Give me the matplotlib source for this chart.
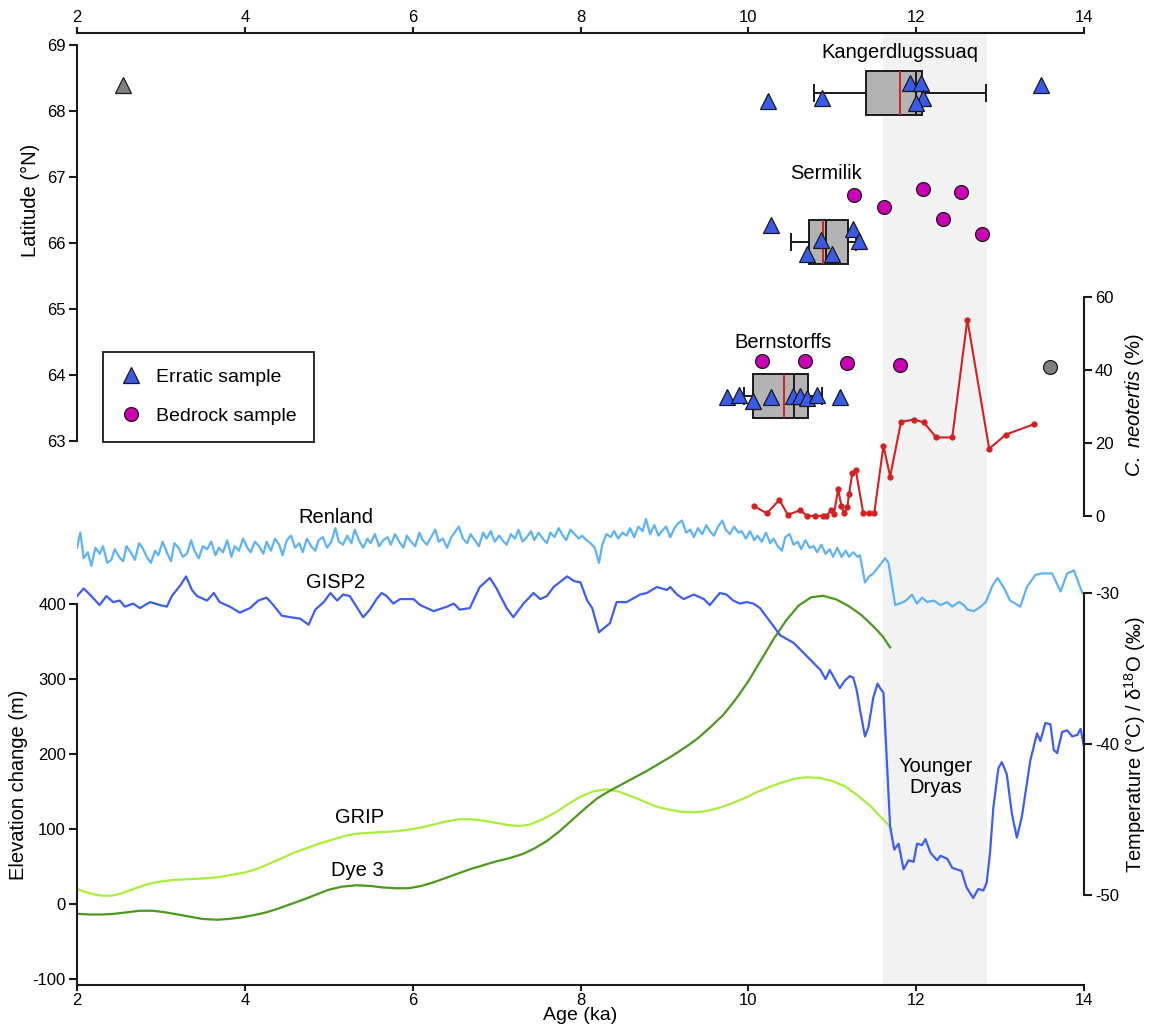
import matplotlib
matplotlib.use('Agg')
import matplotlib.pyplot as plt
from matplotlib.lines import Line2D

plt.rcParams['font.family'] = ['Liberation Sans', 'DejaVu Sans']
plt.rcParams['mathtext.fontset'] = 'custom'
plt.rcParams['mathtext.rm'] = 'Liberation Sans'
plt.rcParams['mathtext.it'] = 'Liberation Sans:italic'
plt.rcParams['axes.unicode_minus'] = False

# ---- exposure ages (ka) and latitude (°N)
erratic_age = [10.24, 10.88, 11.93, 12.06, 12.08, 12.0, 13.49,
               10.27, 11.25, 11.32, 10.86, 10.70, 11.0,
               9.74, 9.89, 10.06, 10.27, 10.53, 10.62, 10.70, 10.82, 11.09]
erratic_lat = [68.15, 68.2, 68.42, 68.42, 68.2, 68.12, 68.4,
               66.27, 66.21, 66.03, 66.05, 65.84, 65.84,
               63.67, 63.70, 63.61, 63.67, 63.68, 63.68, 63.65, 63.69, 63.67]
bedrock_age = [11.26, 11.62, 12.08, 12.53, 12.32, 12.78,
               10.16, 10.68, 11.18, 11.81]
bedrock_lat = [66.72, 66.55, 66.82, 66.77, 66.36, 66.13,
               64.21, 64.21, 64.18, 64.15]
outlier_erratic = (2.55, 68.4)
outlier_bedrock = (13.59, 64.12)

# box summaries: Kangerdlugssuaq, Sermilik, Bernstorffs
box_names = ['Kangerdlugssuaq', 'Sermilik', 'Bernstorffs']
box_lat = [68.275, 66.015, 63.685]
box_whislo = [10.78, 10.51, 9.95]
box_q1 = [11.40, 10.72, 10.06]
box_med = [12.0, 10.92, 10.55]
box_mean = [11.81, 10.89, 10.42]
box_q3 = [12.07, 11.19, 10.71]
box_whishi = [12.83, 11.28, 10.88]

# ---- C. neotertis (%)
cn_age = [10.07, 10.22, 10.37, 10.47, 10.62, 10.70, 10.80, 10.89, 10.93, 10.99,
          11.02, 11.07, 11.11, 11.14, 11.18, 11.20, 11.24, 11.28, 11.37, 11.44,
          11.50, 11.61, 11.69, 11.82, 11.98, 12.09, 12.24, 12.43, 12.61, 12.87,
          13.07, 13.40]
cn_val = [2.7, 0.7, 4.4, 0.3, 1.6, 0.0, 0.0, 0.0, 0.0, 1.6,
          0.5, 7.3, 2.7, 0.7, 2.4, 6.0, 11.8, 12.6, 0.7, 0.7,
          0.7, 19.2, 10.8, 25.8, 26.4, 25.6, 21.5, 21.5, 53.8, 18.4,
          22.3, 25.1]

# ---- Renland (temperature scale)
renland_age = [2.00, 2.04, 2.08, 2.13, 2.17, 2.22, 2.27, 2.31, 2.36, 2.41, 2.45, 2.50,
               2.55, 2.59, 2.64, 2.69, 2.74, 2.78, 2.83, 2.88, 2.93, 2.97, 3.02, 3.07,
               3.12, 3.16, 3.21, 3.26, 3.31, 3.36, 3.40, 3.45, 3.50, 3.55, 3.60, 3.65,
               3.69, 3.74, 3.79, 3.84, 3.88, 3.93, 3.98, 4.03, 4.07, 4.12, 4.17, 4.22,
               4.26, 4.31, 4.36, 4.41, 4.45, 4.50, 4.55, 4.60, 4.65, 4.69, 4.74, 4.79,
               4.84, 4.88, 4.93, 4.98, 5.03, 5.08, 5.12, 5.17, 5.22, 5.27, 5.31, 5.36,
               5.41, 5.46, 5.50, 5.55, 5.60, 5.65, 5.70, 5.74, 5.79, 5.84, 5.89, 5.93,
               5.98, 6.03, 6.08, 6.12, 6.17, 6.22, 6.27, 6.31, 6.36, 6.41, 6.46, 6.50,
               6.55, 6.60, 6.65, 6.69, 6.74, 6.79, 6.84, 6.88, 6.93, 6.98, 7.03, 7.07,
               7.12, 7.17, 7.22, 7.26, 7.31, 7.36, 7.41, 7.45, 7.50, 7.55, 7.60, 7.64,
               7.69, 7.74, 7.79, 7.83, 7.88, 7.93, 7.98, 8.02, 8.07, 8.12, 8.17, 8.22,
               8.26, 8.31, 8.36, 8.40, 8.45, 8.50, 8.55, 8.59, 8.64, 8.69, 8.74, 8.78,
               8.83, 8.88, 8.93, 8.97, 9.02, 9.07, 9.12, 9.16, 9.21, 9.26, 9.31, 9.35,
               9.40, 9.45, 9.50, 9.54, 9.59, 9.64, 9.69, 9.73, 9.78, 9.83, 9.88, 9.92,
               9.97, 10.02, 10.07, 10.11, 10.16, 10.21, 10.26, 10.30, 10.35, 10.40, 10.44, 10.49,
               10.54, 10.59, 10.63, 10.68, 10.73, 10.78, 10.82, 10.87, 10.92, 10.97, 11.01, 11.06,
               11.11, 11.16, 11.20, 11.25, 11.30, 11.33, 11.36, 11.39, 11.44, 11.49, 11.56, 11.63,
               11.67, 11.71, 11.75, 11.80, 11.85, 11.90, 11.95, 12.01, 12.07, 12.13, 12.21, 12.29,
               12.37, 12.43, 12.51, 12.57, 12.61, 12.69, 12.77, 12.83, 12.91, 12.97, 13.05, 13.12,
               13.24, 13.32, 13.42, 13.50, 13.62, 13.72, 13.80, 13.88, 13.98]
renland_val = [-27.0, -26.0, -27.7, -27.3, -28.2, -27.0, -27.4, -26.9, -28.0, -27.8, -27.1, -27.6,
               -27.9, -26.9, -27.3, -27.8, -26.7, -27.0, -27.6, -28.0, -27.2, -27.5, -26.6, -27.3,
               -27.9, -26.7, -27.0, -27.6, -27.4, -26.5, -27.2, -27.7, -26.9, -27.1, -26.6, -27.5,
               -27.0, -27.3, -26.5, -27.6, -26.9, -27.2, -26.4, -27.0, -27.3, -26.6, -26.9, -27.4,
               -26.6, -27.2, -26.4, -26.8, -27.5, -26.5, -26.2, -27.0, -26.7, -27.3, -26.4, -26.9,
               -27.2, -26.5, -26.3, -27.0, -26.6, -25.7, -26.6, -26.8, -26.2, -26.7, -25.8, -26.5,
               -27.0, -26.4, -26.7, -26.1, -26.9, -26.5, -26.3, -26.8, -26.1, -26.6, -27.0, -26.2,
               -26.6, -26.9, -26.0, -26.5, -26.8, -26.3, -25.8, -26.6, -26.4, -27.0, -26.3, -26.0,
               -25.6, -26.4, -26.7, -26.1, -26.5, -26.9, -26.0, -26.4, -25.9, -26.6, -26.2, -26.5,
               -26.8, -26.1, -26.4, -25.8, -26.6, -26.3, -25.9, -26.5, -26.0, -26.4, -26.7, -26.0,
               -26.3, -25.7, -26.2, -26.5, -25.8, -26.1, -26.4, -26.2, -26.5, -26.7, -27.0, -28.0,
               -26.8, -26.1, -26.3, -25.9, -26.4, -26.0, -26.2, -25.7, -26.3, -25.6, -25.9, -25.1,
               -26.1, -25.5, -26.2, -25.9, -25.6, -26.3, -25.7, -25.4, -25.2, -26.0, -25.8, -26.3,
               -25.7, -26.1, -25.5, -25.9, -26.2, -25.6, -25.2, -25.8, -26.1, -25.6, -26.0, -25.9,
               -26.4, -25.9, -26.5, -26.2, -26.6, -26.0, -26.7, -26.4, -26.9, -27.2, -26.3, -26.1,
               -26.8, -26.6, -27.1, -26.5, -27.0, -26.9, -27.3, -26.8, -27.4, -27.1, -27.6, -27.0,
               -27.6, -27.2, -27.6, -27.3, -27.6, -27.5, -28.4, -29.3, -28.9, -28.7, -28.2, -27.7,
               -28.0, -29.4, -30.8, -30.7, -30.6, -30.4, -30.1, -30.7, -30.3, -30.6, -30.5, -30.8,
               -30.6, -30.9, -30.6, -30.8, -31.1, -31.2, -30.9, -30.6, -29.5, -29.0, -29.7, -30.5,
               -30.9, -29.6, -28.8, -28.7, -28.7, -29.9, -28.7, -28.5, -30.0]

# ---- GISP2 temperature (°C)
gisp2_age = [2.00, 2.08, 2.17, 2.27, 2.35, 2.43, 2.51, 2.57, 2.67, 2.75, 2.87, 2.99,
             3.07, 3.13, 3.23, 3.30, 3.37, 3.43, 3.55, 3.63, 3.70, 3.82, 3.94, 4.06,
             4.16, 4.26, 4.34, 4.44, 4.54, 4.66, 4.76, 4.84, 4.94, 5.02, 5.10, 5.17,
             5.25, 5.33, 5.41, 5.49, 5.57, 5.63, 5.69, 5.77, 5.85, 6.01, 6.09, 6.25,
             6.41, 6.49, 6.56, 6.68, 6.80, 6.92, 7.00, 7.12, 7.20, 7.32, 7.44, 7.52,
             7.60, 7.68, 7.84, 7.92, 8.00, 8.08, 8.14, 8.22, 8.35, 8.43, 8.55, 8.71,
             8.79, 8.91, 9.03, 9.07, 9.15, 9.23, 9.35, 9.47, 9.54, 9.66, 9.74, 9.82,
             9.90, 9.98, 10.06, 10.14, 10.26, 10.38, 10.54, 10.70, 10.86, 10.92, 10.97, 11.03,
             11.09, 11.15, 11.21, 11.25, 11.29, 11.33, 11.39, 11.43, 11.49, 11.54, 11.57, 11.61,
             11.65, 11.69, 11.74, 11.79, 11.85, 11.91, 11.97, 12.01, 12.07, 12.11, 12.17, 12.25,
             12.29, 12.37, 12.43, 12.48, 12.54, 12.60, 12.68, 12.74, 12.80, 12.84, 12.88, 12.92,
             12.98, 13.02, 13.08, 13.14, 13.20, 13.26, 13.30, 13.36, 13.44, 13.48, 13.54, 13.60,
             13.64, 13.68, 13.74, 13.80, 13.86, 13.92, 13.96, 14.00]
gisp2_val = [-30.2, -29.7, -30.2, -30.8, -30.2, -30.6, -30.5, -30.9, -30.7, -31.0, -30.6, -30.8,
             -30.9, -30.2, -29.5, -28.9, -29.8, -30.2, -30.5, -30.0, -30.6, -30.9, -31.3, -31.0,
             -30.5, -30.3, -30.8, -31.5, -31.6, -31.7, -32.1, -31.1, -30.6, -30.0, -30.5, -30.1,
             -30.2, -30.9, -31.6, -31.1, -30.4, -30.0, -30.2, -30.7, -30.4, -30.4, -30.8, -31.2,
             -30.9, -30.7, -31.1, -31.0, -29.6, -29.0, -29.7, -31.0, -31.6, -30.7, -30.0, -30.4,
             -30.2, -29.6, -28.9, -29.2, -29.3, -30.5, -31.0, -32.6, -32.0, -30.6, -30.6, -30.1,
             -30.0, -29.6, -29.8, -29.6, -30.1, -30.4, -30.1, -30.4, -30.8, -30.0, -30.1, -30.5,
             -30.7, -30.6, -30.7, -31.0, -31.9, -32.8, -33.3, -34.2, -35.1, -35.7, -35.1, -35.7,
             -36.3, -35.8, -35.5, -35.6, -36.4, -37.7, -39.5, -38.9, -36.9, -36.0, -36.3, -36.6,
             -41.1, -45.5, -47.0, -46.6, -48.3, -47.7, -47.8, -46.6, -46.7, -46.3, -47.2, -47.7,
             -47.4, -47.6, -48.2, -48.3, -48.4, -49.5, -50.2, -49.6, -49.7, -49.2, -47.2, -44.2,
             -41.6, -41.2, -42.0, -44.6, -46.2, -44.8, -43.3, -41.1, -39.3, -39.8, -38.6, -38.7,
             -40.4, -40.6, -39.2, -39.1, -39.5, -39.4, -39.0, -40.2]

# ---- elevation change (m)
grip_age = [2.00, 2.10, 2.20, 2.30, 2.40, 2.50, 2.60, 2.70, 2.80, 2.90, 3.00, 3.15,
            3.30, 3.50, 3.70, 3.85, 4.00, 4.15, 4.30, 4.46, 4.60, 4.75, 4.90, 5.05,
            5.20, 5.35, 5.50, 5.65, 5.80, 5.95, 6.10, 6.25, 6.40, 6.55, 6.70, 6.85,
            7.00, 7.15, 7.28, 7.40, 7.55, 7.70, 7.85, 8.00, 8.15, 8.30, 8.45, 8.60,
            8.75, 8.90, 9.05, 9.20, 9.35, 9.50, 9.65, 9.80, 9.95, 10.10, 10.25, 10.40,
            10.55, 10.70, 10.85, 11.00, 11.15, 11.30, 11.45, 11.58, 11.71]
grip_val = [20, 16, 13, 11, 11, 13, 17, 21, 25, 28, 30, 32,
            33, 34, 36, 39, 42, 47, 54, 62, 69, 75, 81, 86,
            91, 94, 95, 96, 97, 99, 102, 106, 110, 113, 113, 111,
            108, 105, 104, 106, 113, 122, 133, 143, 150, 153, 150, 144,
            137, 130, 126, 123, 122, 124, 128, 134, 141, 149, 156, 162,
            167, 169, 168, 164, 157, 145, 131, 116, 100]
dye3_age = [2.00, 2.15, 2.30, 2.45, 2.60, 2.75, 2.90, 3.05, 3.20, 3.35, 3.50, 3.67,
            3.80, 3.95, 4.10, 4.26, 4.40, 4.55, 4.70, 4.86, 5.00, 5.15, 5.33, 5.50,
            5.65, 5.80, 5.95, 6.10, 6.25, 6.40, 6.55, 6.70, 6.85, 7.00, 7.15, 7.32,
            7.45, 7.60, 7.75, 7.90, 8.05, 8.20, 8.35, 8.50, 8.65, 8.80, 8.95, 9.10,
            9.25, 9.40, 9.55, 9.70, 9.85, 10.00, 10.15, 10.30, 10.45, 10.60, 10.75, 10.89,
            11.05, 11.20, 11.35, 11.50, 11.60, 11.69]
dye3_val = [-13, -14, -14, -13, -11, -9, -9, -11, -14, -17, -20, -21,
            -20, -18, -15, -11, -6, 0, 6, 13, 19, 23, 25, 24,
            22, 21, 21, 24, 29, 35, 41, 47, 52, 57, 61, 67,
            74, 84, 97, 112, 127, 141, 151, 160, 169, 178, 188, 198,
            209, 221, 236, 252, 273, 297, 325, 353, 378, 398, 409, 411,
            406, 397, 385, 369, 357, 342]

yd_start, yd_end = 11.6, 12.85

W, H = 1151, 1025
fig = plt.figure(figsize=(W / 100, H / 100), dpi=100)
rect = [77 / W, 1 - 985 / H, (1084 - 77) / W, (985 - 33) / H]

tick_fs = 12
lab_fs = 14.5
black = '#1a1a1a'

# frame axis with top and bottom age scales
ax = fig.add_axes(rect)
ax.set_xlim(2, 14)
ax.set_ylim(0, 1)
ax.set_yticks([])
for s in ['left', 'right']:
    ax.spines[s].set_visible(False)
for s in ['top', 'bottom']:
    ax.spines[s].set_linewidth(1.5)
    ax.spines[s].set_color(black)
ax.set_xticks([2, 4, 6, 8, 10, 12, 14])
ax.tick_params(axis='x', top=True, labeltop=True, direction='out', length=4,
               width=1.5, labelsize=tick_fs, color=black, pad=2)
ax.axvspan(yd_start, yd_end, color='#f2f2f2', lw=0, zorder=0)


def overlay(ylim, side, bounds, ticks):
    a = fig.add_axes(rect, sharex=ax)
    a.patch.set_visible(False)
    a.set_ylim(*ylim)
    for s in a.spines.values():
        s.set_visible(False)
    a.spines[side].set_visible(True)
    a.spines[side].set_bounds(*bounds)
    a.spines[side].set_linewidth(1.5)
    a.spines[side].set_color(black)
    a.yaxis.set_ticks_position(side)
    a.set_yticks(ticks)
    a.tick_params(axis='y', direction='out', length=6, width=1.5, labelsize=tick_fs,
                  color=black, pad=2)
    a.tick_params(axis='x', bottom=False, labelbottom=False)
    return a


ax_lat = overlay((54.758, 69.182), 'left', (63, 69), [63, 64, 65, 66, 67, 68, 69])
ax_elev = overlay((-108, 1161.3), 'left', (-108, 400), [-100, 0, 100, 200, 300, 400])
ax_cn = overlay((-128.5, 132.3), 'right', (0, 60), [0, 20, 40, 60])
ax_t = overlay((-55.96, 7.09), 'right', (-50, -30), [-50, -40, -30])

# curves
ax_elev.plot(grip_age, grip_val, color='#a6f03a', lw=1.6)
ax_elev.plot(dye3_age, dye3_val, color='#4a9a1c', lw=1.6)
ax_t.plot(renland_age, renland_val, color='#5eb2f6', lw=1.6)
ax_t.plot(gisp2_age, gisp2_val, color='#3d5ef2', lw=1.6)
ax_cn.plot(cn_age, cn_val, color='#d42020', lw=1.5, marker='o', ms=3.5)

# box plots
stats = []
for i in range(len(box_names)):
    stats.append(dict(label=box_names[i], whislo=box_whislo[i], q1=box_q1[i],
                      med=box_med[i], q3=box_q3[i], whishi=box_whishi[i],
                      mean=box_mean[i], fliers=[]))
ax_lat.bxp(stats, positions=box_lat, widths=0.67, orientation='horizontal',
           showmeans=True, meanline=True, patch_artist=True, showfliers=False,
           manage_ticks=False, capwidths=0.24,
           boxprops=dict(facecolor='#b3b3b3', edgecolor=black, lw=1.4),
           medianprops=dict(color=black, lw=1.4),
           meanprops=dict(color='#d42020', ls='-', lw=1.4),
           whiskerprops=dict(color=black, lw=1.4),
           capprops=dict(color=black, lw=1.4))

ax_lat.plot(erratic_age, erratic_lat, ls='none', marker='^', ms=11, mfc='#3a5ae8',
            mec=black, mew=0.9, zorder=4)
ax_lat.plot(bedrock_age, bedrock_lat, ls='none', marker='o', ms=10, mfc='#cc00b4',
            mec=black, mew=0.9, zorder=4)
ax_lat.plot(*outlier_erratic, ls='none', marker='^', ms=11, mfc='#808080',
            mec=black, mew=0.9, zorder=4)
ax_lat.plot(*outlier_bedrock, ls='none', marker='o', ms=10, mfc='#808080',
            mec=black, mew=0.9, zorder=4)

# annotations
ax_lat.text(11.81, 68.89, 'Kangerdlugssuaq', ha='center', va='center', fontsize=lab_fs)
ax_lat.text(10.93, 67.06, 'Sermilik', ha='center', va='center', fontsize=lab_fs)
ax_lat.text(10.41, 64.5, 'Bernstorffs', ha='center', va='center', fontsize=lab_fs)
ax_t.text(5.08, -24.97, 'Renland', ha='center', va='center', fontsize=lab_fs)
ax_t.text(5.08, -29.27, 'GISP2', ha='center', va='center', fontsize=lab_fs)
ax_elev.text(5.37, 114.7, 'GRIP', ha='center', va='center', fontsize=lab_fs)
ax_elev.text(5.34, 45.3, 'Dye 3', ha='center', va='center', fontsize=lab_fs)
ax_t.text(12.23, -42.2, 'Younger\nDryas', ha='center', va='center', fontsize=lab_fs,
          linespacing=1.15)

# axis titles
fig.text(30 / W, 1 - 200 / H, 'Latitude (°N)', rotation=90, ha='center', va='center',
         fontsize=lab_fs)
fig.text(19 / W, 1 - 785 / H, 'Elevation change (m)', rotation=90, ha='center',
         va='center', fontsize=lab_fs)
fig.text(1135 / W, 1 - 405 / H, r'$\mathit{C.\ neotertis}$ (%)', rotation=90,
         ha='center', va='center', fontsize=lab_fs)
fig.text(1135 / W, 1 - 745 / H, r'Temperature (°C) / δ$^{18}$O (‰)', rotation=90,
         ha='center', va='center', fontsize=lab_fs)
fig.text(580 / W, 1 - 1016 / H, 'Age (ka)', ha='center', va='center', fontsize=14)

# legend
handles = [Line2D([], [], ls='none', marker='^', ms=11, mfc='#3a5ae8', mec=black, mew=0.9),
           Line2D([], [], ls='none', marker='o', ms=10, mfc='#cc00b4', mec=black, mew=0.9)]
leg = fig.legend(handles, ['Erratic sample', 'Bedrock sample'], loc='upper left',
                 bbox_to_anchor=(103 / W, 1 - 352 / H), frameon=True, fancybox=False,
                 edgecolor=black, framealpha=1, fontsize=14, borderpad=0.85,
                 labelspacing=1.1, handletextpad=0.7, handlelength=1.2,
                 borderaxespad=0)
leg.get_frame().set_linewidth(1.3)

fig.savefig('out.png', dpi=100)
